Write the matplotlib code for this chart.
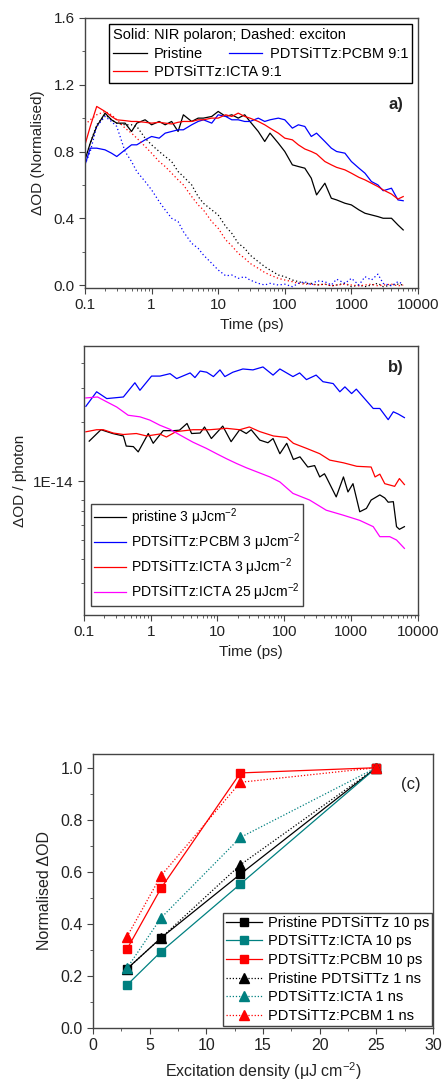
import numpy as np
import matplotlib
matplotlib.use("Agg")
import matplotlib.pyplot as plt
from matplotlib.lines import Line2D
from matplotlib.ticker import MultipleLocator, FixedLocator, FixedFormatter, NullFormatter, LogLocator

plt.rcParams['font.family'] = ['Liberation Sans', 'DejaVu Sans']
plt.rcParams['mathtext.fontset'] = 'custom'
plt.rcParams['mathtext.rm'] = 'Liberation Sans'
plt.rcParams['mathtext.it'] = 'Liberation Sans:italic'
plt.rcParams['font.size'] = 10

TXT = '#222222'
SPN = '#444444'

# ---------------- panel a: normalised kinetics ----------------
t_a = [0.1, 0.12, 0.15, 0.2, 0.25, 0.3, 0.4, 0.5, 0.6, 0.8, 1, 1.3, 1.6, 2, 2.5, 3, 4, 5, 6, 8,
       10, 13, 16, 20, 25, 30, 40, 50, 60, 80, 100, 130, 160, 200, 250, 300, 400, 500, 600, 800,
       1000, 1300, 1600, 2000, 2500, 3000, 4000, 5000, 6000]

pol_pristine = [0.75, 0.85, 0.95, 1.03, 0.99, 0.97, 0.97, 0.92, 0.97, 0.99, 0.96, 0.98, 0.96, 0.98, 0.92,
                1.02, 0.98, 1.00, 1.00, 1.01, 1.04, 1.01, 1.02, 1.00, 1.02, 0.98, 0.92, 0.86, 0.91, 0.85,
                0.80, 0.72, 0.71, 0.70, 0.64, 0.54, 0.61, 0.52, 0.51, 0.49, 0.48, 0.45, 0.43, 0.42, 0.41,
                0.40, 0.40, 0.36, 0.33]
pol_pcbm = [0.72, 0.82, 0.82, 0.81, 0.79, 0.77, 0.81, 0.84, 0.84, 0.87, 0.89, 0.88, 0.91, 0.92, 0.93,
            0.93, 0.96, 0.98, 0.99, 0.97, 1.02, 1.01, 0.99, 0.99, 0.98, 0.98, 1.00, 0.98, 0.99, 1.00,
            0.99, 0.94, 0.96, 0.95, 0.89, 0.91, 0.86, 0.82, 0.80, 0.79, 0.74, 0.70, 0.67, 0.62, 0.60,
            0.565, 0.58, 0.51, 0.505]
pol_icta = [0.84, 0.95, 1.07, 1.04, 1.01, 0.99, 0.985, 0.98, 0.98, 0.975, 0.97, 0.975, 0.97, 0.965, 0.975,
            0.98, 0.98, 0.99, 0.99, 1.00, 1.00, 1.02, 1.01, 1.03, 1.01, 1.00, 0.98, 0.96, 0.94, 0.91,
            0.88, 0.87, 0.84, 0.815, 0.80, 0.785, 0.74, 0.72, 0.705, 0.69, 0.67, 0.645, 0.63, 0.61, 0.59,
            0.57, 0.545, 0.515, 0.53]
exc_pristine = [0.75, 0.85, 0.96, 1.02, 0.99, 0.97, 0.96, 0.96, 0.95, 0.88, 0.84, 0.80, 0.77, 0.74, 0.68,
                0.65, 0.60, 0.53, 0.49, 0.45, 0.42, 0.35, 0.31, 0.25, 0.22, 0.18, 0.14, 0.11, 0.09, 0.06,
                0.05, 0.03, 0.02, 0.01, 0.01, 0.0, 0.005, -0.005, 0.0, 0.01, -0.01, 0.0, -0.01, 0.0, 0.01,
                -0.01, 0.0, 0.005, 0.0]
exc_icta = [0.96, 0.99, 1.02, 1.04, 1.02, 0.99, 0.94, 0.91, 0.88, 0.83, 0.79, 0.74, 0.71, 0.67, 0.63,
            0.60, 0.53, 0.48, 0.45, 0.38, 0.34, 0.27, 0.235, 0.19, 0.16, 0.13, 0.10, 0.075, 0.06, 0.04,
            0.03, 0.02, 0.01, 0.005, 0.005, 0.0, 0.005, -0.005, 0.0, 0.005, 0.0, -0.005, 0.0, 0.005, -0.005,
            0.0, 0.005, -0.005, 0.0]
exc_pcbm = [0.72, 0.80, 0.95, 1.01, 0.98, 0.95, 0.80, 0.74, 0.68, 0.62, 0.57, 0.50, 0.45, 0.40, 0.38,
            0.32, 0.25, 0.22, 0.18, 0.13, 0.09, 0.055, 0.06, 0.04, 0.05, 0.03, 0.01, 0.0, 0.01, 0.0,
            0.005, -0.01, 0.01, 0.02, 0.0, 0.025, 0.02, 0.0, 0.035, 0.01, 0.04, 0.0, 0.05, 0.03, 0.065,
            0.01, -0.005, 0.02, 0.005]

# ---------------- panel b: dOD per photon ----------------
t_b_pristine = [0.12, 0.18, 0.27, 0.39, 0.43, 0.55, 0.65, 0.92, 1.09, 1.54, 2.2, 2.7, 3.5, 4.1, 5.5, 6.4,
                8.1, 12, 16, 21.5, 27, 32, 43, 57, 68, 86, 109, 137, 172, 225, 285, 340, 400, 425, 600,
                770, 900, 1070, 1350, 1700, 2000, 2700, 3200, 3600, 4300, 4800, 5300, 6300]
b_pristine = [1.60, 1.83, 1.75, 1.70, 1.51, 1.50, 1.41, 1.75, 1.56, 1.81, 1.81, 1.82, 1.97, 1.75, 1.76, 1.89,
              1.65, 1.91, 1.59, 1.83, 1.75, 1.83, 1.62, 1.57, 1.65, 1.38, 1.56, 1.29, 1.33, 1.18, 1.20,
              1.05, 1.09, 1.05, 0.83, 1.05, 0.88, 0.97, 0.697, 0.725, 0.80, 0.85, 0.82, 0.78, 0.785, 0.585,
              0.567, 0.585]
t_b_pcbm = [0.107, 0.155, 0.22, 0.39, 0.58, 0.69, 1.03, 1.38, 1.95, 2.45, 3.9, 4.6, 5.5, 6.9, 8.7, 10.9,
            12.9, 17, 24, 34, 48, 68, 86, 135, 170, 215, 300, 380, 540, 680, 810, 1020, 1200, 1520, 2150,
            2700, 3600, 4300, 5100, 6300]
b_pcbm = [2.41, 2.86, 2.64, 2.69, 3.18, 2.91, 3.44, 3.44, 3.54, 3.34, 3.57, 3.38, 3.65, 3.60, 3.42, 3.70,
          3.42, 3.60, 3.74, 3.70, 3.83, 3.48, 3.74, 3.42, 3.57, 3.30, 3.48, 3.22, 3.15, 2.86, 3.03, 2.80,
          2.95, 2.69, 2.35, 2.35, 2.06, 2.26, 2.20, 2.11]
t_b_icta = [0.107, 0.155, 0.195, 0.275, 0.39, 0.61, 0.87, 1.37, 1.72, 2.4, 4.3, 7.7, 13.7, 21.5, 30, 43,
            69, 109, 137, 215, 340, 480, 770, 1220, 2000, 2290, 2700, 3200, 4500, 5300, 6300]
b_icta = [1.786, 1.83, 1.83, 1.76, 1.73, 1.75, 1.70, 1.74, 1.68, 1.79, 1.83, 1.83, 1.86, 1.83, 1.89, 1.79,
          1.70, 1.67, 1.56, 1.47, 1.38, 1.28, 1.24, 1.19, 1.18, 1.05, 1.085, 0.97, 0.94, 1.03, 0.96]
t_b_icta25 = [0.107, 0.16, 0.22, 0.31, 0.46, 0.69, 0.97, 1.37, 1.94, 2.74, 4.3, 6.8, 9.7, 13.7, 19.3, 27,
              43, 61, 86, 135, 240, 425, 760, 1350, 2150, 2700, 3800, 4800, 6300]
b_icta25 = [2.66, 2.69, 2.54, 2.39, 2.17, 2.13, 2.05, 1.93, 1.84, 1.72, 1.58, 1.47, 1.38, 1.30, 1.23, 1.17,
            1.10, 1.05, 0.99, 0.865, 0.80, 0.71, 0.67, 0.63, 0.585, 0.52, 0.52, 0.50, 0.453]
b_scale = 1e-14

# ---------------- panel c: fluence dependence ----------------
fluence = [3, 6, 13, 25]
c_pristine_10ps = [0.227, 0.346, 0.591, 1.0]
c_icta_10ps = [0.165, 0.293, 0.553, 1.0]
c_pcbm_10ps = [0.303, 0.537, 0.98, 1.0]
c_pristine_1ns = [0.227, 0.346, 0.627, 1.0]
c_icta_1ns = [0.23, 0.423, 0.732, 1.0]
c_pcbm_1ns = [0.351, 0.585, 0.944, 1.0]

fig = plt.figure(figsize=(4.44, 10.84), dpi=100)
ax_a = fig.add_axes([0.1914, 0.7343, 0.75, 0.2491])
ax_b = fig.add_axes([0.189, 0.4327, 0.752, 0.2481])
ax_c = fig.add_axes([0.2095, 0.0517, 0.7658, 0.2528])


def style(ax):
    for s in ax.spines.values():
        s.set_color(SPN)
        s.set_linewidth(1.0)
    ax.tick_params(which='both', direction='out', colors=SPN, labelcolor=TXT,
                   labelsize=11, top=False, right=False)
    ax.tick_params(which='major', length=4)
    ax.tick_params(which='minor', length=2.5)


# panel a
lw = 0.9
ax_a.plot(t_a, pol_pristine, color='black', lw=lw)
ax_a.plot(t_a, pol_pcbm, color='blue', lw=lw)
ax_a.plot(t_a, pol_icta, color='red', lw=lw)
ax_a.plot(t_a, exc_pristine, color='black', lw=lw, ls=(0, (1, 2)))
ax_a.plot(t_a, exc_icta, color='red', lw=lw, ls=(0, (1, 2)))
ax_a.plot(t_a, exc_pcbm, color='blue', lw=lw, ls=(0, (1, 2)))
ax_a.set_xscale('log')
ax_a.set_xlim(0.1, 10000)
ax_a.set_ylim(-0.018, 1.6)
ax_a.yaxis.set_major_locator(MultipleLocator(0.4))
ax_a.yaxis.set_minor_locator(MultipleLocator(0.2))
ax_a.xaxis.set_major_locator(FixedLocator([0.1, 1, 10, 100, 1000, 10000]))
ax_a.xaxis.set_major_formatter(FixedFormatter(['0.1', '1', '10', '100', '1000', '10000']))
ax_a.xaxis.set_minor_locator(LogLocator(base=10, subs=np.arange(2, 10), numticks=20))
ax_a.xaxis.set_minor_formatter(NullFormatter())
ax_a.yaxis.set_major_formatter(plt.FuncFormatter(lambda v, p: f'{v:.1f}'))
style(ax_a)
ax_a.set_xlabel('Time (ps)', fontsize=11, color=TXT, labelpad=4)
ax_a.set_ylabel('ΔOD (Normalised)', fontsize=11, color=TXT, labelpad=6)
ax_a.text(0.935, 0.68, 'a)', transform=ax_a.transAxes, fontsize=12, fontweight='bold',
          color=TXT, ha='center', va='center')
h_a = [Line2D([], [], color='black', lw=lw), Line2D([], [], color='red', lw=lw),
       Line2D([], [], color='blue', lw=lw)]
leg_a = ax_a.legend(h_a, ['Pristine', 'PDTSiTTz:ICTA 9:1', 'PDTSiTTz:PCBM 9:1'],
                    title='Solid: NIR polaron; Dashed: exciton', title_fontsize=10.5, fontsize=10.5,
                    ncol=2, columnspacing=-3.65, loc='upper left', bbox_to_anchor=(0.072, 0.978),
                    frameon=True, fancybox=False, edgecolor='black', framealpha=1,
                    handlelength=2.3, handletextpad=0.5, labelspacing=0.3, borderpad=0.3,
                    borderaxespad=0, alignment='left')
leg_a.get_frame().set_linewidth(1.0)

# panel b
ax_b.plot(t_b_pristine, np.array(b_pristine) * b_scale, color='black', lw=lw)
ax_b.plot(t_b_pcbm, np.array(b_pcbm) * b_scale, color='blue', lw=lw)
ax_b.plot(t_b_icta, np.array(b_icta) * b_scale, color='red', lw=lw)
ax_b.plot(t_b_icta25, np.array(b_icta25) * b_scale, color='magenta', lw=lw)
ax_b.set_xscale('log')
ax_b.set_yscale('log')
ax_b.set_xlim(0.1, 10000)
ax_b.set_ylim(2.07e-15, 4.9e-14)
ax_b.xaxis.set_major_locator(FixedLocator([0.1, 1, 10, 100, 1000, 10000]))
ax_b.xaxis.set_major_formatter(FixedFormatter(['0.1', '1', '10', '100', '1000', '10000']))
ax_b.xaxis.set_minor_locator(LogLocator(base=10, subs=np.arange(2, 10), numticks=20))
ax_b.xaxis.set_minor_formatter(NullFormatter())
ax_b.yaxis.set_major_locator(FixedLocator([1e-14]))
ax_b.yaxis.set_major_formatter(FixedFormatter(['1E-14']))
ax_b.yaxis.set_minor_locator(FixedLocator([3e-15, 4e-15, 5e-15, 6e-15, 7e-15, 8e-15, 2e-14, 3e-14, 4e-14]))
ax_b.yaxis.set_minor_formatter(NullFormatter())
style(ax_b)
ax_b.set_xlabel('Time (ps)', fontsize=11, color=TXT, labelpad=4)
ax_b.set_ylabel('ΔOD / photon', fontsize=11, color=TXT, labelpad=4)
ax_b.text(0.935, 0.92, 'b)', transform=ax_b.transAxes, fontsize=12, fontweight='bold',
          color=TXT, ha='center', va='center')
leg_b = ax_b.legend(['pristine 3 μJcm$^{-2}$', 'PDTSiTTz:PCBM 3 μJcm$^{-2}$',
                     'PDTSiTTz:ICTA 3 μJcm$^{-2}$', 'PDTSiTTz:ICTA 25 μJcm$^{-2}$'],
                    fontsize=10, loc='lower left', bbox_to_anchor=(0.021, 0.033),
                    frameon=True, fancybox=False, edgecolor=SPN, framealpha=1,
                    handlelength=2.3, handletextpad=0.4, labelspacing=0.25, borderpad=0.2,
                    borderaxespad=0)
leg_b.get_frame().set_linewidth(1.0)

# panel c
teal = '#008080'
ms_sq, ms_tr = 6, 7
ax_c.plot(fluence, c_pristine_10ps, color='black', lw=0.9, marker='s', ms=ms_sq, label='Pristine PDTSiTTz 10 ps')
ax_c.plot(fluence, c_icta_10ps, color=teal, lw=0.9, marker='s', ms=ms_sq, label='PDTSiTTz:ICTA 10 ps')
ax_c.plot(fluence, c_pcbm_10ps, color='red', lw=0.9, marker='s', ms=ms_sq, label='PDTSiTTz:PCBM 10 ps')
ax_c.plot(fluence, c_pristine_1ns, color='black', lw=0.9, ls=(0, (1, 1.5)), marker='^', ms=ms_tr,
          label='Pristine PDTSiTTz 1 ns')
ax_c.plot(fluence, c_icta_1ns, color=teal, lw=0.9, ls=(0, (1, 1.5)), marker='^', ms=ms_tr,
          label='PDTSiTTz:ICTA 1 ns')
ax_c.plot(fluence, c_pcbm_1ns, color='red', lw=0.9, ls=(0, (1, 1.5)), marker='^', ms=ms_tr,
          label='PDTSiTTz:PCBM 1 ns')
ax_c.set_xlim(0, 30)
ax_c.set_ylim(0, 1.053)
ax_c.xaxis.set_major_locator(MultipleLocator(5))
ax_c.xaxis.set_minor_locator(MultipleLocator(2.5))
ax_c.yaxis.set_major_locator(MultipleLocator(0.2))
ax_c.yaxis.set_minor_locator(MultipleLocator(0.1))
ax_c.yaxis.set_major_formatter(plt.FuncFormatter(lambda v, p: f'{v:.1f}'))
style(ax_c)
ax_c.tick_params(labelsize=11.5)
ax_c.set_xlabel('Excitation density (μJ cm$^{-2}$)', fontsize=11.5, color=TXT, labelpad=5)
ax_c.set_ylabel('Normalised ΔOD', fontsize=11.5, color=TXT, labelpad=6)
ax_c.text(0.935, 0.89, '(c)', transform=ax_c.transAxes, fontsize=12, color=TXT,
          ha='center', va='center')
leg_c = ax_c.legend(fontsize=10.5, loc='lower right', bbox_to_anchor=(0.997, 0.007),
                    frameon=True, fancybox=False, edgecolor=SPN, framealpha=1,
                    handlelength=2.5, handletextpad=0.4, labelspacing=0.32, borderpad=0.2,
                    borderaxespad=0)
leg_c.get_frame().set_linewidth(1.0)

fig.savefig('out.png', dpi=100)
